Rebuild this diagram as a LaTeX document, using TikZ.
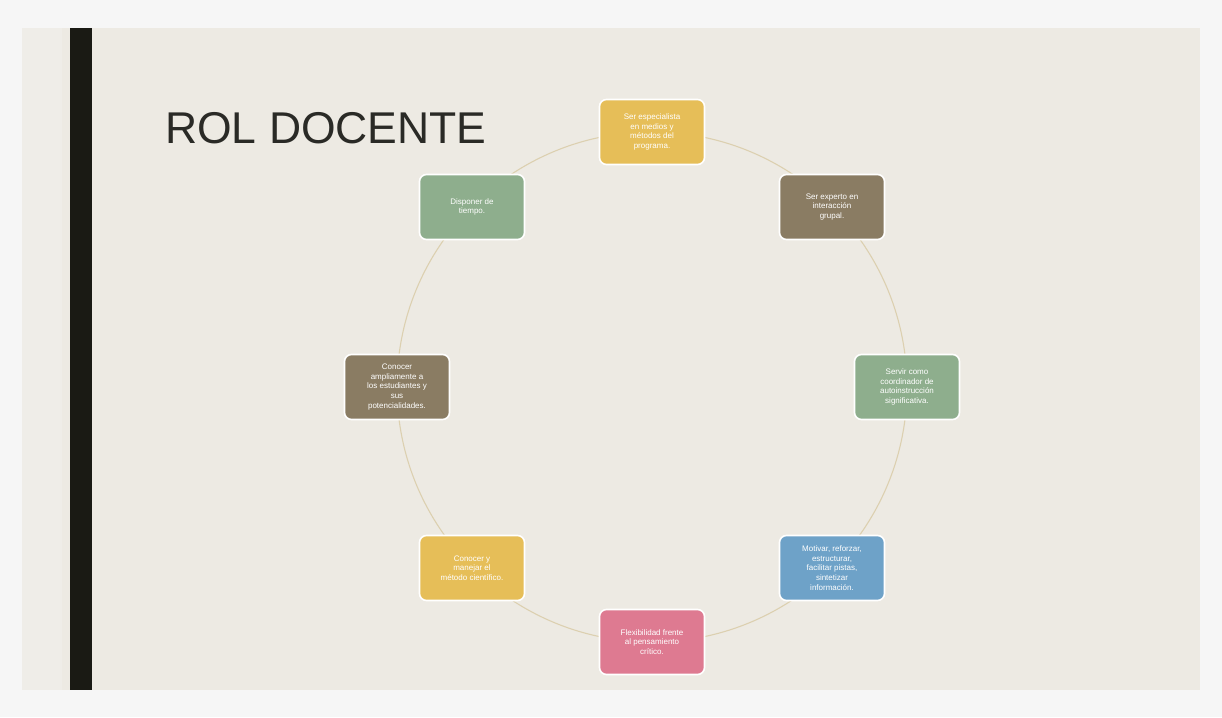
\documentclass[tikz,border=0pt]{standalone}
\usepackage{fontspec}
\setmainfont{Liberation Sans}
\definecolor{outer}{HTML}{F6F6F6}
\definecolor{slide}{HTML}{EDEAE3}
\definecolor{strip}{HTML}{EFEDE8}
\definecolor{bar}{HTML}{1A1A14}
\definecolor{ring}{HTML}{DCD0B0}
\definecolor{cyel}{HTML}{E6BE58}
\definecolor{cbrn}{HTML}{8A7C63}
\definecolor{cgrn}{HTML}{8EAE8D}
\definecolor{cblu}{HTML}{6EA2C8}
\definecolor{cpnk}{HTML}{DE7A91}
\definecolor{titlec}{HTML}{2A2A26}
\tikzset{
  rbox/.style={draw=white, line width=1.6pt, rounded corners=7pt,
    minimum width=105pt, minimum height=65pt, align=center,
    text=white, font=\fontsize{8}{9.6}\selectfont, inner sep=2pt},
}
\begin{document}
\begin{tikzpicture}[x=1pt,y=-1pt]
\useasboundingbox (0,0) rectangle (1222,717);
\fill[outer] (0,0) rectangle (1222,717);
\fill[slide] (22,28) rectangle (1200,690);
\fill[strip] (22,28) rectangle (62,690);
\fill[bar] (70,28) rectangle (92,690);
\node[anchor=west, text=titlec, font=\fontsize{44.5}{50}\selectfont, inner sep=0pt] (title) at (165,128) {ROL DOCENTE};
\coordinate (c) at (652,387);
\draw[ring, line width=1.1pt] (c) circle[radius=255];
\node[rbox, fill=cyel] (b1) at (652,132) {Ser especialista\\ en medios y\\ métodos del\\ programa.};
\node[rbox, fill=cbrn] (b2) at (832,207) {Ser experto en\\ interacción\\ grupal.};
\node[rbox, fill=cgrn] (b3) at (907,387) {Servir como\\ coordinador de\\ autoinstrucción\\ significativa.};
\node[rbox, fill=cblu] (b4) at (832,568) {Motivar, reforzar,\\ estructurar,\\ facilitar pistas,\\ sintetizar\\ información.};
\node[rbox, fill=cpnk] (b5) at (652,642) {Flexibilidad frente\\ al pensamiento\\ crítico.};
\node[rbox, fill=cyel] (b6) at (472,568) {Conocer y\\ manejar el\\ método científico.};
\node[rbox, fill=cbrn] (b7) at (397,387) {Conocer\\ ampliamente a\\ los estudiantes y\\ sus\\ potencialidades.};
\node[rbox, fill=cgrn] (b8) at (472,207) {Disponer de\\ tiempo.};
\end{tikzpicture}
\end{document}
